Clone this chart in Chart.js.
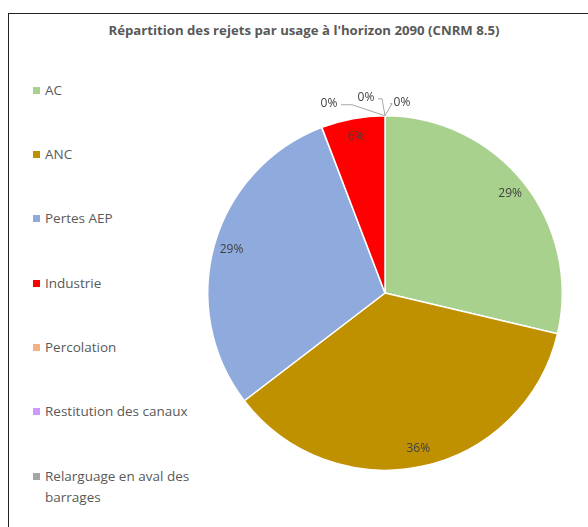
<!DOCTYPE html>
<html>
<head>
<meta charset="utf-8">
<script src="https://cdn.jsdelivr.net/npm/chart.js@4"></script>
<style>
  body { margin: 0; background: #fff; font-family: 'Open Sans', sans-serif; }
  #wrap { position: relative; width: 588px; height: 527px; overflow: hidden; }
  #frame { position: absolute; left: 8px; top: 13px; width: 600px; height: 600px; border-left: 1px solid #222; border-top: 1px solid #222; }
  #title { position: absolute; left: 8px; width: 592px; top: 21px; text-align: center; font-weight: bold; font-size: 13.2px; color: #595959; }
  #legend { position: absolute; left: 33px; top: 0; font-size: 13.5px; color: #595959; }
  .item { position: absolute; left: 0; white-space: nowrap; line-height: 21px; }
  .item i { position: absolute; left: 0; top: 7px; width: 7px; height: 7px; }
  .item span { position: absolute; left: 12px; top: 0; }
  canvas { position: absolute; left: 0; top: 0; }
</style>
</head>
<body>
<div id="wrap">
  <div id="frame"></div>
  <div id="title">Répartition des rejets par usage à l'horizon 2090 (CNRM 8.5)</div>
  <div id="legend"></div>
  <canvas id="pie" width="588" height="527"></canvas>
</div>
<script>
// catégories et parts (%)
const labels = ['AC', 'ANC', 'Pertes AEP', 'Industrie', 'Percolation', 'Restitution des canaux', 'Relarguage en aval des barrages'];
const values = [28.7, 35.9, 29.6, 5.8, 0, 0, 0];
const shown = ['29%', '36%', '29%', '6%', '0%', '0%', '0%'];
const colors = ['#A9D18E', '#BF9000', '#8FAADC', '#FF0000', '#F4B183', '#CC99FF', '#A5A5A5'];

// --- légende à gauche ---
const legend = document.getElementById('legend');
const legendTop = [80, 144, 208, 273, 337, 401, 466];
labels.forEach((l, i) => {
    const d = document.createElement('div');
    d.className = 'item';
    d.style.top = legendTop[i] + 'px';
    const txt = l === 'Relarguage en aval des barrages' ? 'Relarguage en aval des<br>barrages' : l;
    d.innerHTML = '<i style="background:' + colors[i] + '"></i><span>' + txt + '</span>';
    legend.appendChild(d);
});

// étiquettes des secteurs
const zeroCallouts = [
    { dx: -56, dy: -12, lx: -33, ly: -11 },
    { dx: -19, dy: -18, lx: -3, ly: -15 },
    { dx: 17, dy: -13, lx: 7, ly: -12 }
];
const labelPlugin = {
    id: 'sliceLabels',
    afterDatasetsDraw(chart) {
        const ctx = chart.ctx;
        const arcs = chart.getDatasetMeta(0).data;
        ctx.save();
        ctx.font = '12px "Open Sans", sans-serif';
        ctx.fillStyle = '#404040';
        ctx.textAlign = 'center';
        ctx.textBaseline = 'middle';
        let z = 0;
        arcs.forEach((arc, i) => {
            const p = arc.getProps(['x', 'y', 'startAngle', 'endAngle', 'outerRadius'], true);
            const mid = (p.startAngle + p.endAngle) / 2;
            if (values[i] > 0) {
                const r = p.outerRadius * 0.9;
                ctx.fillText(shown[i], p.x + Math.cos(mid) * r, p.y + Math.sin(mid) * r);
            } else {
                const c = zeroCallouts[z++];
                const ax = p.x + Math.cos(mid) * p.outerRadius;
                const ay = p.y + Math.sin(mid) * p.outerRadius;
                ctx.strokeStyle = '#A6A6A6';
                ctx.lineWidth = 1;
                ctx.beginPath();
                const sx = c.dx < 0 ? ax + c.dx + 12 : ax + c.dx - 12;
                ctx.moveTo(sx, ay + c.dy + 1);
                ctx.lineTo(ax + c.lx, ay + c.dy + 1);
                ctx.lineTo(ax, ay);
                ctx.stroke();
                ctx.fillText(shown[i], ax + c.dx, ay + c.dy);
            }
        });
        ctx.restore();
    }
};

new Chart(document.getElementById('pie'), {
    type: 'pie',
    data: {
        labels: labels,
        datasets: [{ data: values, backgroundColor: colors, borderColor: '#fff', borderWidth: 1.5 }]
    },
    options: {
        responsive: false,
        animation: false,
        layout: { padding: { left: 207, right: 25, top: 115, bottom: 56 } },
        plugins: { legend: { display: false }, tooltip: { enabled: false } }
    },
    plugins: [labelPlugin]
});
</script>
</body>
</html>
